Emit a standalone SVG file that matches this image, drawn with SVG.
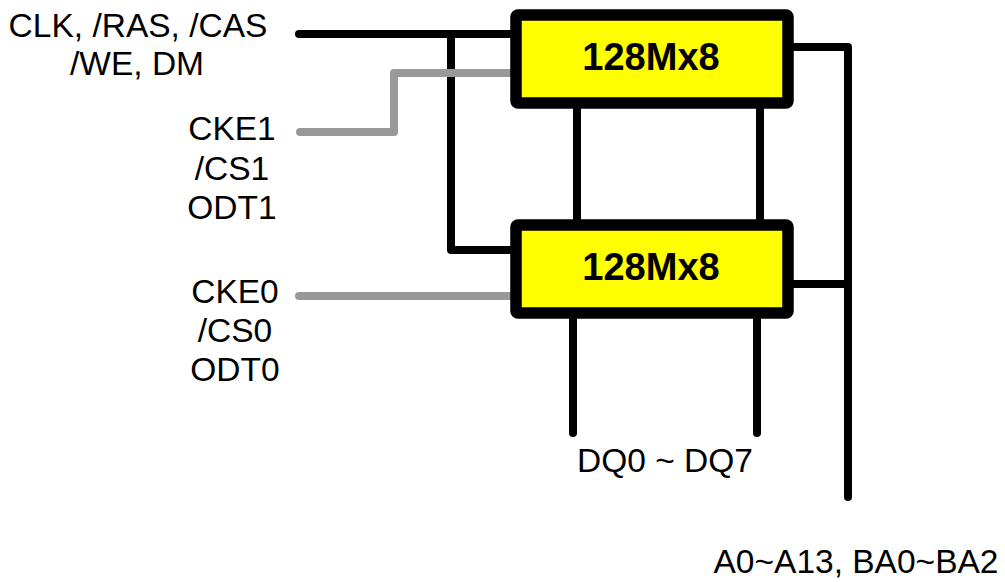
<svg xmlns="http://www.w3.org/2000/svg" width="1005" height="582" viewBox="0 0 1005 582">
<style>
.blk{fill:none;stroke:#000;stroke-width:8;stroke-linecap:round;stroke-linejoin:round}
.gry{fill:none;stroke:#999;stroke-width:8;stroke-linecap:round;stroke-linejoin:round}
.box{fill:#ff0;stroke:#000;stroke-width:11.5;stroke-linejoin:round}
.lbl{font-family:"Liberation Sans",Arial,sans-serif;font-size:33.5px;fill:#000;text-anchor:middle}
.chip{font-family:"Liberation Sans",Arial,sans-serif;font-size:38px;font-weight:bold;fill:#000;text-anchor:middle}
</style>
<rect width="1005" height="582" fill="#fff"/>
<g id="connectors">
<path class="blk" d="M299,34 H516"/>
<path class="blk" d="M451,34 V250 H516"/>
<path class="gry" d="M300,132 H394 V73 H516"/>
<path class="gry" d="M299,296 H516"/>
<path class="blk" d="M577,103 V225"/>
<path class="blk" d="M760,103 V225"/>
<path class="blk" d="M573,313 V433"/>
<path class="blk" d="M757,313 V433"/>
<path class="blk" d="M788,47 H848 V497"/>
<path class="blk" d="M788,284 H848"/>
</g>
<g id="chip1">
<rect class="box" x="516" y="15" width="272" height="88" rx="2"/>
<text class="chip" x="651" y="70">128Mx8</text>
</g>
<g id="chip0">
<rect class="box" x="516" y="225" width="272" height="88" rx="2"/>
<text class="chip" x="651" y="280">128Mx8</text>
</g>
<g id="labels">
<text class="lbl" x="138" y="37">CLK, /RAS, /CAS</text>
<text class="lbl" x="137" y="75">/WE, DM</text>
<text class="lbl" x="232" y="140">CKE1</text>
<text class="lbl" x="232" y="180">/CS1</text>
<text class="lbl" x="232" y="219">ODT1</text>
<text class="lbl" x="235" y="303">CKE0</text>
<text class="lbl" x="235" y="342">/CS0</text>
<text class="lbl" x="235" y="381">ODT0</text>
<text class="lbl" x="665" y="472">DQ0 ~ DQ7</text>
<text class="lbl" x="856" y="573">A0~A13, BA0~BA2</text>
</g>
</svg>
